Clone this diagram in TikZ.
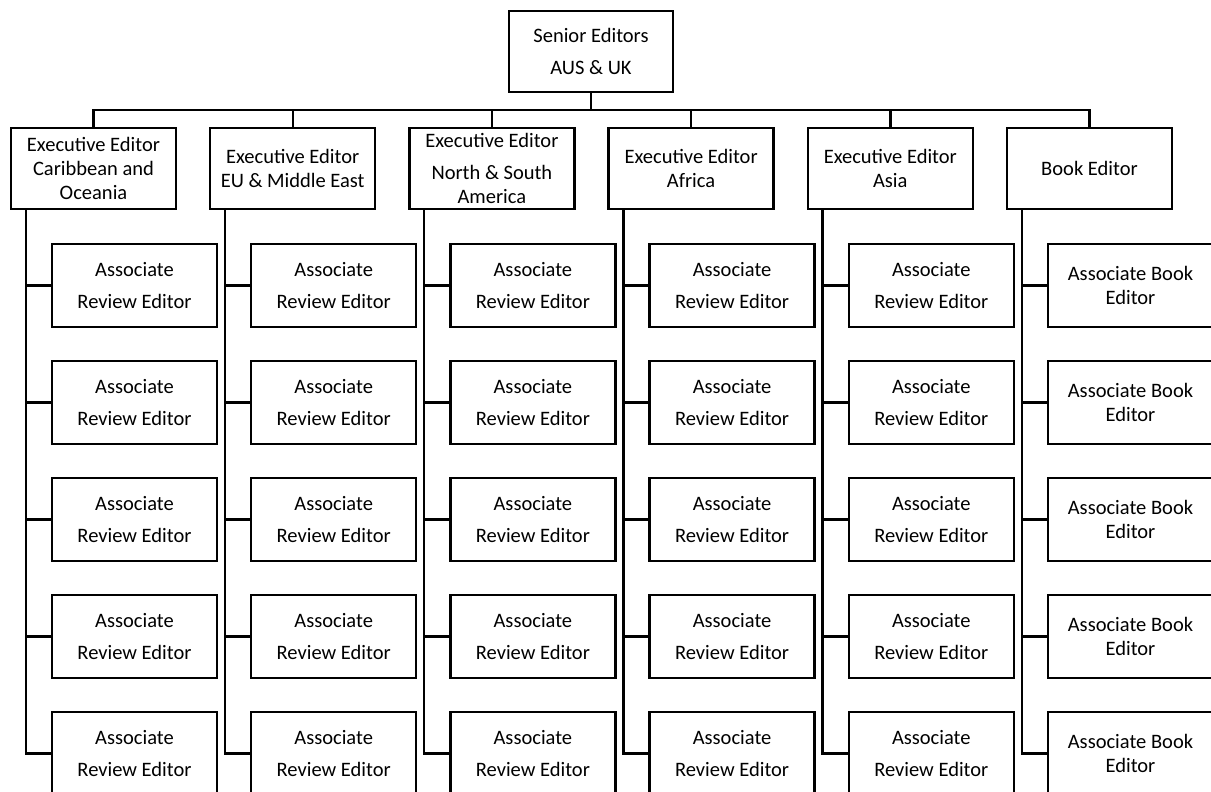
\documentclass[tikz,border=0pt]{standalone}
\usepackage{fontspec}
\setmainfont{Carlito}

\begin{document}
\begin{tikzpicture}[x=1pt, y=-1pt, line width=2.4pt,
    box/.style={draw, align=center, minimum width=165pt, minimum height=81pt,
        inner sep=0pt, font=\fontsize{20.5}{24}\selectfont},
    assoc/.style={box, minimum height=83pt}]
    \useasboundingbox (0,0) rectangle (1211,792);
    % senior editors and the executive row
    \node[box, minimum width=164pt] (top) at (591,51.5) {Senior Editors\\[8pt]AUS \& UK};
    \coordinate (bus) at (591,110);
    \foreach \lbl [count=\i from 0] in {{Executive Editor\\Caribbean and\\Oceania},
            {Executive Editor\\EU \& Middle East}, {Executive Editor\\[8pt]North \& South\\America},
            {Executive Editor\\Africa}, {Executive Editor\\Asia}, {Book Editor}}
        \node[box] (e\i) at (93.5+199.2*\i,168.5) {\lbl};
    \draw (top.south) -- (bus);
    \foreach \i in {0,...,5}
        \draw (e\i.north) |- (bus);
    % associate editors
    \foreach \i in {0,...,4}
        \foreach \j in {0,...,4}
            \node[assoc] (a\i-\j) at (134.5+199.2*\i,285.5+117*\j) {Associate\\[8pt]Review Editor};
    \foreach \j in {0,...,4}
        \node[assoc] (a5-\j) at (134.5+199.2*5,285.5+117*\j) {Associate Book\\Editor};
    \foreach \i in {0,...,5} {
        \coordinate (t\i) at ([xshift=16pt]e\i.south west);
        \draw (t\i) |- (a\i-4.west);
        \foreach \j in {0,...,3}
            \draw (a\i-\j.west) -- (a\i-\j.west -| t\i);
    }
\end{tikzpicture}
\end{document}
